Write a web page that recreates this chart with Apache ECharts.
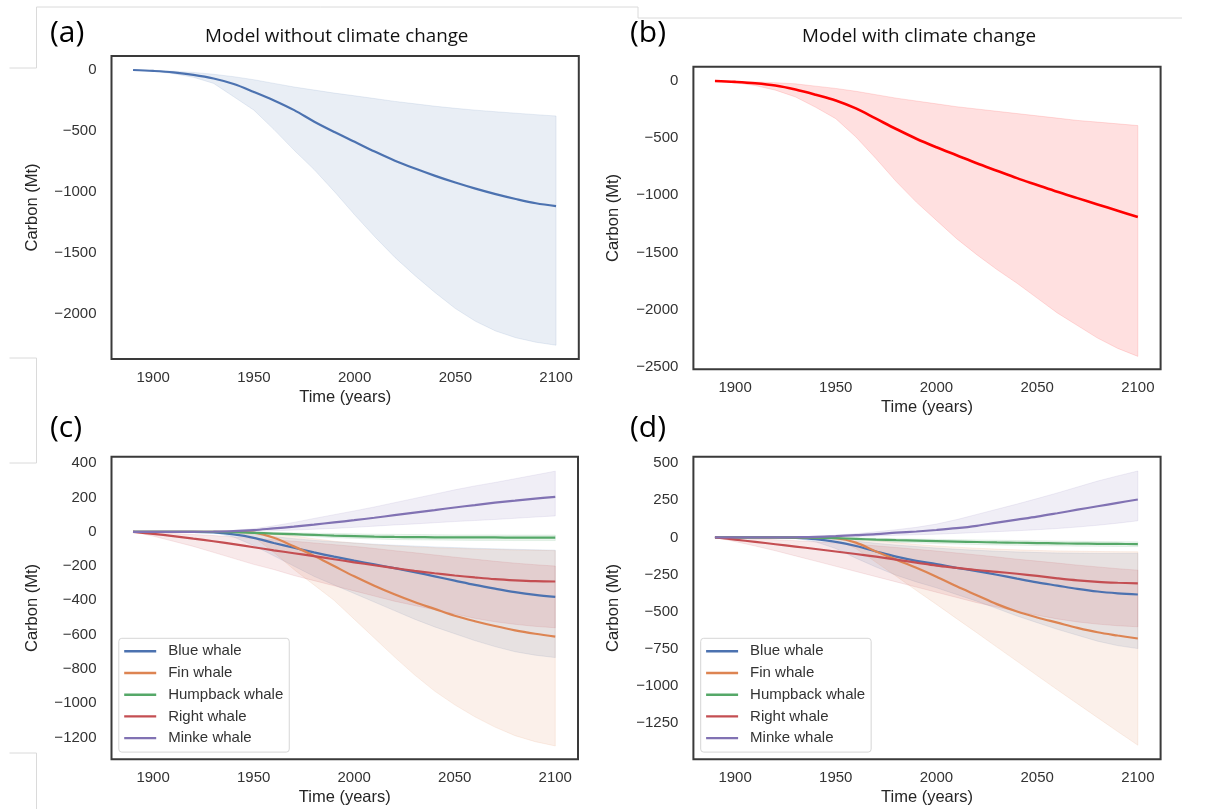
<!DOCTYPE html>
<html>
<head>
<meta charset="utf-8">
<script src="https://cdn.jsdelivr.net/npm/echarts@6/dist/echarts.min.js"></script>
<style>
  html, body { margin: 0; padding: 0; background: #fff; }
  #main { width: 1210px; height: 809px; }
</style>
</head>
<body>
<div id="main"></div>
<script>
// years sampled every decade
var years = [1890, 1900, 1910, 1920, 1930, 1940, 1950, 1960, 1970, 1980, 1990,
             2000, 2010, 2020, 2030, 2040, 2050, 2060, 2070, 2080, 2090, 2100];

// (a) model without climate change
var meanA = [0, -8, -20, -40, -70, -115, -180, -250, -330, -425, -510, -590, -670, -745, -810, -870, -925, -975, -1020, -1060, -1095, -1118];
var upA   = [0, -3, -10, -20, -35, -55, -80, -110, -140, -165, -190, -212, -235, -258, -278, -298, -315, -330, -343, -355, -367, -378];
var loA   = [0, -10, -30, -60, -110, -220, -330, -490, -660, -820, -1000, -1190, -1370, -1540, -1690, -1830, -1960, -2065, -2145, -2200, -2237, -2262];

// (b) model with climate change
var meanB = [0, -8, -20, -40, -75, -120, -170, -240, -330, -420, -505, -580, -650, -720, -785, -850, -910, -970, -1025, -1080, -1135, -1190];
var upB   = [0, -3, -8, -15, -25, -45, -65, -90, -120, -150, -175, -200, -225, -245, -265, -285, -305, -325, -345, -360, -375, -390];
var loB   = [0, -15, -40, -80, -140, -230, -330, -490, -680, -880, -1060, -1220, -1380, -1520, -1650, -1770, -1900, -2030, -2140, -2250, -2340, -2410];

// (c) per species, without climate change
var blueC    = [0, 0, 0, 0, -3, -15, -35, -65, -93, -120, -145, -168, -190, -212, -235, -260, -285, -310, -332, -352, -368, -380];
var blueCUp  = [0, 0, 0, 0, 0, -5, -15, -28, -40, -50, -58, -65, -72, -78, -83, -88, -92, -96, -99, -102, -105, -107];
var blueCLo  = [0, 0, 0, 0, -5, -30, -80, -140, -200, -260, -310, -360, -410, -460, -510, -555, -595, -635, -670, -700, -720, -734];
var finC     = [0, 0, 0, 0, 0, 0, -5, -35, -85, -140, -200, -260, -315, -365, -410, -450, -490, -522, -550, -575, -595, -612];
var finCUp   = [0, 0, 0, 0, 0, 0, 0, -10, -25, -40, -55, -65, -75, -82, -88, -93, -97, -100, -103, -106, -108, -110];
var finCLo   = [0, 0, 0, 0, 0, 0, -30, -120, -220, -310, -400, -510, -620, -730, -835, -930, -1010, -1080, -1140, -1190, -1225, -1250];
var humpC    = [0, 0, 0, 0, 0, -2, -6, -10, -14, -18, -22, -25, -28, -30, -31, -32, -33, -33, -33, -34, -34, -34];
var humpCUp  = [0, 0, 0, 0, 0, 0, -2, -4, -6, -8, -10, -12, -14, -15, -16, -17, -18, -18, -18, -19, -19, -19];
var humpCLo  = [0, 0, 0, 0, 0, -4, -10, -16, -22, -28, -34, -38, -42, -45, -47, -48, -49, -50, -50, -51, -51, -51];
var rightC   = [0, -12, -25, -40, -55, -72, -90, -108, -125, -142, -160, -178, -195, -212, -228, -242, -255, -266, -276, -283, -288, -290];
var rightCUp = [0, -5, -10, -16, -22, -30, -38, -46, -55, -65, -75, -85, -97, -110, -122, -135, -148, -160, -172, -183, -192, -200];
var rightCLo = [0, -25, -55, -85, -120, -155, -190, -220, -255, -285, -315, -345, -375, -405, -430, -455, -480, -505, -525, -540, -552, -560];
var minkeC   = [0, 0, 0, 0, 1, 4, 10, 20, 30, 42, 55, 68, 82, 97, 112, 127, 142, 156, 170, 182, 194, 204];
var minkeCUp = [0, 0, 0, 0, 2, 8, 18, 35, 55, 78, 100, 122, 145, 170, 195, 220, 245, 268, 288, 310, 332, 354];
var minkeCLo = [0, 0, 0, 0, 0, 0, 3, 6, 10, 15, 20, 26, 33, 40, 46, 53, 60, 66, 72, 79, 86, 93];

// (d) per species, with climate change
var blueD    = [0, 0, 0, 0, -3, -12, -30, -58, -95, -130, -158, -180, -205, -228, -252, -278, -303, -325, -347, -365, -377, -385];
var blueDUp  = [0, 0, 0, 0, 0, -4, -12, -25, -40, -52, -62, -72, -80, -87, -93, -98, -102, -105, -107, -108, -108, -108];
var blueDLo  = [0, 0, 0, 0, -6, -30, -75, -140, -200, -255, -300, -340, -385, -430, -480, -530, -575, -620, -660, -700, -730, -750];
var finD     = [0, 0, 0, 0, 0, 0, -5, -35, -95, -150, -205, -265, -330, -390, -450, -500, -540, -575, -610, -640, -662, -682];
var finDUp   = [0, 0, 0, 0, 0, 0, 0, -8, -20, -35, -48, -58, -66, -73, -79, -84, -88, -91, -93, -95, -96, -97];
var finDLo   = [0, 0, 0, 0, 0, 0, -15, -75, -168, -262, -358, -452, -548, -643, -740, -836, -932, -1028, -1122, -1216, -1310, -1402];
var humpD    = [0, 0, 0, 0, 0, -2, -5, -10, -15, -19, -22, -25, -28, -31, -34, -36, -38, -40, -42, -43, -44, -45];
var humpDUp  = [0, 0, 0, 0, 0, 0, -1, -3, -6, -9, -11, -13, -15, -17, -19, -21, -23, -25, -26, -28, -29, -30];
var humpDLo  = [0, 0, 0, 0, 0, -4, -9, -17, -25, -32, -37, -41, -45, -48, -51, -53, -55, -57, -59, -60, -61, -62];
var rightD   = [0, -15, -30, -46, -62, -78, -95, -112, -130, -150, -170, -190, -205, -220, -232, -245, -260, -276, -290, -300, -306, -310];
var rightDUp = [0, -5, -10, -16, -22, -30, -38, -47, -57, -68, -80, -92, -105, -118, -132, -147, -160, -173, -187, -199, -211, -221];
var rightDLo = [0, -28, -58, -90, -125, -160, -195, -230, -265, -300, -335, -370, -405, -440, -470, -500, -525, -550, -570, -585, -596, -603];
var minkeD   = [0, 0, 0, 0, 1, 3, 8, 15, 22, 32, 40, 50, 62, 78, 100, 120, 140, 163, 187, 210, 233, 256];
var minkeDUp = [0, 0, 0, 0, 2, 6, 15, 25, 38, 52, 68, 90, 120, 155, 190, 225, 262, 300, 340, 380, 415, 448];
var minkeDLo = [0, 0, 0, 0, 0, 0, 3, 6, 10, 14, 18, 22, 27, 33, 39, 45, 52, 60, 70, 82, 96, 112];

var species = ['Blue whale', 'Fin whale', 'Humpback whale', 'Right whale', 'Minke whale'];
var speciesColors = ['#4c72b0', '#dd8452', '#55a868', '#c44e52', '#8172b3'];
var bandColors = ['rgba(76,114,176,0.12)', 'rgba(221,132,82,0.12)', 'rgba(85,168,104,0.12)',
                  'rgba(196,78,82,0.12)', 'rgba(129,114,179,0.12)'];

var xTicks = [1900, 1950, 2000, 2050, 2100];
var yTicksA = [0, -500, -1000, -1500, -2000];
var yTicksB = [0, -500, -1000, -1500, -2000, -2500];
var yTicksC = [400, 200, 0, -200, -400, -600, -800, -1000, -1200];
var yTicksD = [500, 250, 0, -250, -500, -750, -1000, -1250];

var grids = [
  { left: 111.5, top: 56,    width: 467.3, height: 303 },
  { left: 693.4, top: 66.7,  width: 467.2, height: 302.6 },
  { left: 111.5, top: 456.7, width: 466.5, height: 302.6 },
  { left: 693.4, top: 456.7, width: 467.2, height: 302.6 }
];
grids.forEach(function (g) {
  g.show = true;
  g.borderColor = '#3a3a3a';
  g.borderWidth = 2;
  g.backgroundColor = '#fff';
});

function fmt(v) { return String(v).replace('-', '\u2212'); }

function makeX(i) {
  return {
    type: 'value', gridIndex: i, min: 1879.3, max: 2111.3,
    name: 'Time (years)', nameLocation: 'middle', nameGap: 30,
    nameTextStyle: { fontSize: 16.5, color: '#262626' },
    axisLine: { show: false }, axisTick: { show: false }, splitLine: { show: false },
    axisLabel: { customValues: xTicks, margin: 11, fontSize: 15, color: '#333', formatter: fmt }
  };
}

function makeY(i, min, max, ticks) {
  return {
    type: 'value', gridIndex: i, min: min, max: max,
    name: 'Carbon (Mt)', nameLocation: 'middle', nameGap: 71,
    nameTextStyle: { fontSize: 16.5, color: '#262626' },
    axisLine: { show: false }, axisTick: { show: false }, splitLine: { show: false },
    axisLabel: { customValues: ticks, margin: 15, fontSize: 15, color: '#333', formatter: fmt }
  };
}

function pairs(arr) {
  return years.map(function (y, i) { return [y, arr[i]]; });
}

function band(idx, up, lo, color) {
  return {
    type: 'custom', xAxisIndex: idx, yAxisIndex: idx, silent: true, z: 1,
    data: [[years[0], up[0]]],
    renderItem: function (params, api) {
      var pts = [];
      for (var i = 0; i < years.length; i++) pts.push(api.coord([years[i], up[i]]));
      for (var j = years.length - 1; j >= 0; j--) pts.push(api.coord([years[j], lo[j]]));
      return { type: 'polygon', shape: { points: pts }, style: { fill: color, stroke: color, lineWidth: 1 } };
    }
  };
}

function line(idx, name, arr, color, width) {
  return {
    type: 'line', name: name, xAxisIndex: idx, yAxisIndex: idx, z: 3,
    data: pairs(arr), showSymbol: false, smooth: 0.35,
    lineStyle: { color: color, width: width }, itemStyle: { color: color }
  };
}

var series = [
  band(0, upA, loA, 'rgba(76,114,176,0.12)'),
  line(0, 'a', meanA, '#4c72b0', 2.2),
  band(1, upB, loB, 'rgba(255,0,0,0.12)'),
  line(1, 'b', meanB, '#ff0000', 2.6)
];

var setC = [[blueC, blueCUp, blueCLo], [finC, finCUp, finCLo], [humpC, humpCUp, humpCLo],
            [rightC, rightCUp, rightCLo], [minkeC, minkeCUp, minkeCLo]];
var setD = [[blueD, blueDUp, blueDLo], [finD, finDUp, finDLo], [humpD, humpDUp, humpDLo],
            [rightD, rightDUp, rightDLo], [minkeD, minkeDUp, minkeDLo]];

[[2, setC], [3, setD]].forEach(function (p) {
  p[1].forEach(function (s, k) { series.push(band(p[0], s[1], s[2], bandColors[k])); });
  p[1].forEach(function (s, k) { series.push(line(p[0], species[k], s[0], speciesColors[k], 2.2)); });
});

function legendAt(left) {
  return {
    orient: 'vertical', left: left, top: 638.3, data: species,
    icon: 'rect', itemWidth: 32, itemHeight: 2.4, itemGap: 5.7,
    padding: [5, 6, 6, 5.4],
    backgroundColor: 'rgba(255,255,255,0.8)', borderColor: '#d6d6d6', borderWidth: 1, borderRadius: 3,
    textStyle: { fontSize: 15, color: '#333', lineHeight: 16, padding: [0, 0, 0, 7] },
    selectedMode: false
  };
}

var panelFont = 'Open Sans';
function label(text, x, y) {
  return { type: 'text', left: x, top: y, style: { text: text, font: '30px "' + panelFont + '"', fill: '#000' } };
}
function titleText(text, cx, cy) {
  return { type: 'text', x: cx, y: cy, style: { text: text, font: '18.8px "' + panelFont + '"', fill: '#111', align: 'center', verticalAlign: 'middle' } };
}
function seg(x1, y1, x2, y2) {
  return { type: 'line', shape: { x1: x1, y1: y1, x2: x2, y2: y2 }, style: { stroke: '#dadada', lineWidth: 1 }, silent: true };
}

var chart = echarts.init(document.getElementById('main'));
chart.setOption({
  animation: false,
  textStyle: { fontFamily: 'Liberation Sans' },
  grid: grids,
  xAxis: [makeX(0), makeX(1), makeX(2), makeX(3)],
  yAxis: [makeY(0, -2375, 115, yTicksA), makeY(1, -2523, 125, yTicksB),
          makeY(2, -1328, 438.5, yTicksC), makeY(3, -1497, 544.5, yTicksD)],
  legend: [legendAt(118.8), legendAt(700.7)],
  series: series,
  graphic: [
    seg(36.5, 7, 605, 7), seg(36.5, 7, 36.5, 68), seg(9.5, 68, 36.5, 68),
    seg(605, 7, 638, 7), seg(638, 7, 638, 18), seg(638, 18, 1182, 18),
    seg(9.5, 358, 36.5, 358), seg(36.5, 358, 36.5, 463), seg(9.5, 463, 36.5, 463),
    seg(9.5, 753, 36.5, 753), seg(36.5, 753, 36.5, 809),
    label('(a)', 50, 18), label('(b)', 630, 18), label('(c)', 50, 413), label('(d)', 630, 413),
    titleText('Model without climate change', 336.7, 37),
    titleText('Model with climate change', 919, 37)
  ]
});
</script>
</body>
</html>
